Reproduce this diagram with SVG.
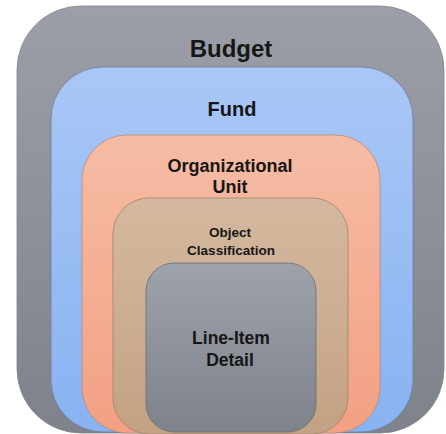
<svg xmlns="http://www.w3.org/2000/svg" width="446" height="434" viewBox="0 0 446 434">
  <defs>
    <linearGradient id="gGray" x1="0" y1="0" x2="0" y2="1">
      <stop offset="0" stop-color="#9c9fa7"/>
      <stop offset="1" stop-color="#7e828b"/>
    </linearGradient>
    <linearGradient id="gBlue" x1="0" y1="0" x2="0" y2="1">
      <stop offset="0" stop-color="#a9c7f6"/>
      <stop offset="1" stop-color="#88b2f1"/>
    </linearGradient>
    <linearGradient id="gOrange" x1="0" y1="0" x2="0" y2="1">
      <stop offset="0" stop-color="#f6bca5"/>
      <stop offset="1" stop-color="#f3a083"/>
    </linearGradient>
    <linearGradient id="gTan" x1="0" y1="0" x2="0" y2="1">
      <stop offset="0" stop-color="#d4b9a0"/>
      <stop offset="1" stop-color="#c3a283"/>
    </linearGradient>
    <linearGradient id="gInner" x1="0" y1="0" x2="0" y2="1">
      <stop offset="0" stop-color="#9ea2aa"/>
      <stop offset="1" stop-color="#7e828b"/>
    </linearGradient>
  </defs>
  <style>
    .lbl { font-family: "Liberation Sans", Arial, sans-serif; font-weight: bold; fill: #161616; text-anchor: middle; }
    .box { stroke-width: 0.8; }
  </style>
  <rect width="446" height="434" fill="#ffffff"/>

  <g id="budget">
    <rect class="box" x="17" y="6" width="427" height="427" rx="64" ry="64" fill="url(#gGray)" stroke="#80848c"/>
    <text class="lbl" x="231" y="57" font-size="24">Budget</text>
  </g>

  <g id="fund">
    <rect class="box" x="51" y="67" width="362" height="365" rx="52" ry="52" fill="url(#gBlue)" stroke="#6f7f9c"/>
    <text class="lbl" x="232" y="116" font-size="20">Fund</text>
  </g>

  <g id="organizational-unit">
    <rect class="box" x="82" y="135" width="298" height="298" rx="45" ry="45" fill="url(#gOrange)" stroke="#b98a78"/>
    <text class="lbl" x="230" y="172" font-size="18">Organizational</text>
    <text class="lbl" x="230" y="193" font-size="18">Unit</text>
  </g>

  <g id="object-classification">
    <rect class="box" x="113" y="198" width="235" height="236" rx="36" ry="36" fill="url(#gTan)" stroke="#9e8468"/>
    <text class="lbl" x="230" y="237" font-size="13.5">Object</text>
    <text class="lbl" x="231" y="255" font-size="13.5">Classification</text>
  </g>

  <g id="line-item-detail">
    <rect class="box" x="146" y="263" width="170" height="169" rx="28" ry="28" fill="url(#gInner)" stroke="#686c74"/>
    <text class="lbl" x="231" y="344" font-size="17.5">Line-Item</text>
    <text class="lbl" x="230" y="366" font-size="17.5">Detail</text>
  </g>

  <g id="connectors"/>
</svg>
